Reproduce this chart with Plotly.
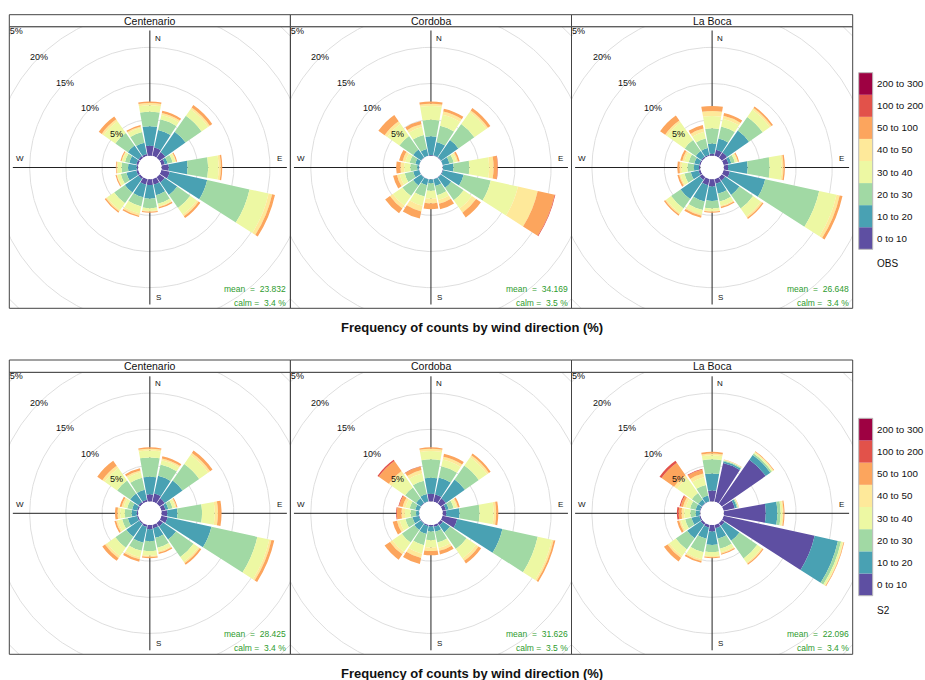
import numpy as np
import plotly.graph_objects as go

# ---------------------------------------------------------------- data
DIRECTIONS = [0.0, 22.5, 45.0, 67.5, 90.0, 112.5, 135.0, 157.5,
              180.0, 202.5, 225.0, 247.5, 270.0, 292.5, 315.0, 337.5]
SPEED_BINS = ["0 to 10", "10 to 20", "20 to 30", "30 to 40", "40 to 50",
              "50 to 100", "100 to 200", "200 to 300"]
BIN_COLOURS = ["#5E4FA2", "#49A1B3", "#A1D9A4", "#EDF8A3", "#FEE99A",
               "#FCA55D", "#E2524A", "#9E0142"]
SITES = ["Centenario", "Cordoba", "La Boca"]
RUNS = ["OBS", "S2"]
MEAN_OBS = [23.832, 34.169, 26.648]
MEAN_S2 = [28.425, 31.626, 22.096]
CALM_OBS = [3.4, 3.5, 3.4]
CALM_S2 = [3.4, 3.5, 3.4]
RING_TICKS = [5, 10, 15, 20, 25]
COMPASS = ["N", "E", "S", "W"]
TITLE = "Frequency of counts by wind direction (%)"

# cumulative frequency (%) at the top of each speed bin
# (0-10, 10-20, 20-30, 30-40, 40-50, 50-100, 100-200), one row per direction
OBS_CENTENARIO = [
    [1.4, 4.1, 6.1, 7.0, 7.3, 7.5, 7.5],
    [1.2, 3.7, 5.2, 5.8, 6.1, 6.4, 6.4],
    [1.0, 4.4, 7.1, 8.2, 8.5, 8.9, 8.9],
    [0.5, 0.9, 1.6, 2.0, 2.1, 2.25, 2.25],
    [1.0, 3.6, 6.45, 7.9, 8.2, 8.4, 8.4],
    [1.2, 6.5, 12.5, 15.2, 15.7, 16.1, 16.1],
    [0.9, 3.0, 5.2, 6.3, 6.6, 6.9, 6.9],
    [0.8, 2.3, 3.5, 3.9, 4.0, 4.2, 4.2],
    [0.8, 2.7, 4.0, 4.4, 4.5, 4.65, 4.65],
    [0.8, 2.6, 3.9, 4.9, 5.2, 5.4, 5.4],
    [0.3, 2.6, 4.4, 5.6, 5.8, 6.0, 6.0],
    [0.3, 1.7, 2.5, 3.0, 3.1, 3.25, 3.25],
    [0.2, 1.4, 2.3, 2.85, 3.0, 3.1, 3.1],
    [0.3, 1.3, 1.9, 2.3, 2.4, 2.55, 2.55],
    [0.3, 2.1, 4.2, 6.2, 6.5, 7.0, 7.0],
    [0.3, 1.9, 3.4, 4.0, 4.2, 4.4, 4.4],
]
OBS_CORDOBA = [
    [0.1, 2.7, 5.0, 6.9, 7.2, 7.5, 7.5],
    [0.1, 2.0, 4.3, 5.85, 6.3, 6.7, 6.7],
    [0.1, 3.0, 5.7, 7.7, 8.0, 8.4, 8.4],
    [0.05, 1.0, 1.6, 2.0, 2.2, 2.45, 2.45],
    [0.05, 1.5, 3.7, 6.45, 7.05, 7.6, 7.65],
    [0.1, 3.0, 6.85, 10.7, 13.5, 15.9, 16.0],
    [0.05, 1.8, 3.9, 5.3, 6.0, 6.8, 6.8],
    [0.05, 1.0, 2.3, 3.0, 3.5, 4.3, 4.3],
    [0.05, 0.55, 1.6, 2.7, 3.35, 4.15, 4.15],
    [0.05, 0.9, 2.5, 3.8, 4.6, 5.6, 5.6],
    [0.05, 1.4, 3.2, 4.8, 5.3, 6.1, 6.1],
    [0.05, 0.9, 2.1, 2.8, 3.2, 3.75, 3.75],
    [0.05, 0.3, 1.25, 2.1, 2.6, 3.2, 3.2],
    [0.05, 0.6, 1.4, 2.0, 2.4, 2.9, 2.9],
    [0.05, 1.4, 3.7, 5.75, 6.2, 7.25, 7.25],
    [0.05, 1.0, 3.0, 4.1, 4.5, 4.95, 4.95],
]
OBS_LABOCA = [
    [0.3, 1.7, 3.8, 5.5, 6.2, 6.9, 6.9],
    [0.9, 2.5, 4.2, 5.3, 5.7, 6.1, 6.1],
    [0.9, 4.6, 6.9, 8.1, 8.4, 8.65, 8.65],
    [0.7, 1.1, 1.6, 1.9, 2.05, 2.2, 2.2],
    [0.6, 3.3, 6.35, 8.0, 8.25, 8.45, 8.45],
    [0.9, 5.9, 13.55, 16.0, 16.45, 16.85, 16.85],
    [0.6, 3.0, 5.3, 6.6, 6.85, 7.05, 7.05],
    [0.7, 2.1, 3.2, 3.8, 3.95, 4.15, 4.15],
    [1.0, 3.0, 4.05, 4.4, 4.5, 4.65, 4.65],
    [0.9, 3.2, 4.4, 5.0, 5.2, 5.5, 5.5],
    [0.5, 3.7, 5.3, 6.1, 6.3, 6.5, 6.5],
    [0.3, 1.4, 2.3, 2.85, 3.05, 3.3, 3.3],
    [0.2, 0.9, 1.8, 2.6, 2.9, 3.2, 3.2],
    [0.2, 0.9, 1.7, 2.3, 2.6, 2.9, 2.9],
    [0.2, 1.15, 3.0, 6.0, 6.3, 7.15, 7.15],
    [0.2, 1.15, 2.5, 3.45, 3.9, 4.4, 4.4],
]
S2_CENTENARIO = [
    [1.0, 3.45, 6.1, 7.05, 7.3, 7.5, 7.5],
    [1.2, 3.7, 5.3, 5.9, 6.15, 6.45, 6.45],
    [0.9, 3.9, 6.7, 8.2, 8.55, 8.95, 8.95],
    [0.6, 1.0, 1.6, 2.0, 2.15, 2.3, 2.3],
    [0.8, 2.2, 5.6, 7.35, 7.8, 8.3, 8.3],
    [0.9, 7.1, 13.6, 15.3, 15.6, 16.0, 16.0],
    [0.6, 2.8, 5.75, 6.55, 6.8, 7.05, 7.05],
    [0.5, 1.85, 3.25, 3.8, 3.95, 4.15, 4.15],
    [0.6, 2.25, 3.6, 4.25, 4.4, 4.6, 4.6],
    [0.3, 2.55, 3.7, 4.6, 4.9, 5.25, 5.25],
    [0.2, 2.35, 4.2, 5.6, 5.95, 6.4, 6.4],
    [0.2, 1.5, 2.3, 2.9, 3.15, 3.4, 3.4],
    [0.2, 0.9, 1.85, 2.5, 2.85, 3.2, 3.2],
    [0.2, 0.9, 1.6, 2.1, 2.4, 2.65, 2.65],
    [0.3, 1.7, 3.9, 6.0, 6.4, 7.25, 7.25],
    [0.3, 1.7, 3.4, 4.2, 4.45, 4.75, 4.75],
]
S2_CORDOBA = [
    [1.1, 3.3, 5.85, 7.0, 7.3, 7.5, 7.5],
    [1.05, 3.45, 5.05, 6.0, 6.4, 6.8, 6.8],
    [0.9, 4.1, 6.45, 7.85, 8.15, 8.45, 8.45],
    [0.5, 0.9, 1.6, 2.0, 2.2, 2.45, 2.45],
    [0.5, 2.35, 5.1, 7.05, 7.4, 7.7, 7.7],
    [2.1, 8.5, 13.5, 15.5, 15.75, 16.0, 16.0],
    [0.4, 1.6, 4.4, 6.0, 6.4, 6.85, 6.85],
    [0.3, 1.0, 2.5, 3.3, 3.7, 4.2, 4.2],
    [0.2, 0.9, 2.1, 3.1, 3.6, 4.2, 4.2],
    [0.2, 1.3, 2.9, 4.1, 4.7, 5.55, 5.55],
    [0.1, 1.2, 3.3, 4.9, 5.3, 6.2, 6.2],
    [0.1, 1.0, 2.0, 2.8, 3.2, 3.8, 3.8],
    [0.05, 0.45, 1.2, 2.0, 2.45, 3.1, 3.2],
    [0.05, 0.6, 1.4, 2.0, 2.4, 2.9, 3.0],
    [0.1, 0.9, 2.75, 5.05, 5.5, 7.2, 7.4],
    [0.1, 1.1, 3.0, 4.0, 4.5, 5.0, 5.05],
]
S2_LABOCA = [
    [1.55, 3.9, 5.85, 6.4, 6.65, 6.9, 6.9],
    [5.5, 5.75, 5.85, 5.92, 5.96, 6.0, 6.0],
    [7.4, 8.2, 8.45, 8.65, 8.75, 8.85, 8.85],
    [1.6, 1.9, 2.05, 2.12, 2.16, 2.2, 2.2],
    [5.8, 7.4, 7.85, 8.1, 8.25, 8.4, 8.4],
    [12.9, 16.2, 16.65, 16.9, 17.0, 17.1, 17.1],
    [0.5, 3.0, 6.0, 6.7, 6.9, 7.05, 7.05],
    [0.5, 2.0, 3.4, 3.9, 4.1, 4.25, 4.25],
    [0.9, 2.75, 3.75, 4.3, 4.45, 4.6, 4.6],
    [0.4, 2.0, 3.9, 4.9, 5.15, 5.4, 5.4],
    [0.3, 2.6, 4.5, 5.6, 5.9, 6.5, 6.5],
    [0.2, 1.3, 2.2, 2.8, 3.05, 3.35, 3.35],
    [0.1, 0.65, 1.4, 2.25, 2.6, 3.0, 3.25],
    [0.1, 0.7, 1.5, 2.1, 2.5, 2.85, 3.0],
    [0.1, 0.7, 1.8, 4.3, 4.8, 6.9, 7.25],
    [0.1, 0.9, 2.4, 3.5, 4.0, 4.6, 4.7],
]

PANELS = [
    [OBS_CENTENARIO, OBS_CORDOBA, OBS_LABOCA],
    [S2_CENTENARIO, S2_CORDOBA, S2_LABOCA],
]
MEANS = [MEAN_OBS, MEAN_S2]
CALMS = [CALM_OBS, CALM_S2]

# ---------------------------------------------------------------- geometry
W, H = 925, 680
COL_EDGES = [9.3, 290.4, 571.5, 852.7]
STRIP_TOP = [14.7, 360.0]
STRIP_BOTTOM = [26.7, 372.3]
PANEL_BOTTOM = [308.3, 654.3]
TITLE_Y = [327.0, 673.0]
KEY_X0, KEY_X1 = 858.7, 872.7
KEY_TOP = [72.7, 418.3]
KEY_BOTTOM = [249.3, 595.7]

R_PX = 138.0          # polar radius in pixels
HOLE_PX = 11.7        # calm hole radius in pixels
PX_PER_PCT = 7.23     # pixels per 1 %
RMAX = (R_PX - HOLE_PX) / PX_PER_PCT
BAR_WIDTH = 20.25

FONT = "Liberation Sans, Arial, sans-serif"
GRID_COLOUR = "#DEDEDE"
FRAME_COLOUR = "#444444"
STAT_COLOUR = "#2E9B2E"
TEXT_COLOUR = "#111111"


def px_x(x):
    return x / W


def px_y(y):
    return 1 - y / H


def note(x, y, text, size, xref="paper", yref="paper", xanchor="center",
         color=TEXT_COLOUR):
    return dict(x=x, y=y, xref=xref, yref=yref, text=text, showarrow=False,
                xanchor=xanchor, yanchor="middle", borderpad=0,
                font=dict(size=size, color=color, family=FONT))


fig = go.Figure()
annotations = []
shapes = []
layout_extra = {}

theta_circ = np.linspace(0, 2 * np.pi, 361)

for r_i, run in enumerate(RUNS):
    top = STRIP_BOTTOM[r_i]
    bottom = PANEL_BOTTOM[r_i]
    cy = (top + bottom) / 2
    for c_i, site in enumerate(SITES):
        n = r_i * 3 + c_i + 1
        left, right = COL_EDGES[c_i], COL_EDGES[c_i + 1]
        cx = (left + right) / 2
        xa = "x" if n == 1 else f"x{n}"
        ya = "y" if n == 1 else f"y{n}"
        xkey = "xaxis" if n == 1 else f"xaxis{n}"
        ykey = "yaxis" if n == 1 else f"yaxis{n}"
        pkey = "polar" if n == 1 else f"polar{n}"

        # ---- cartesian background (rings, cross, hole) in pixel units
        layout_extra[xkey] = dict(domain=[px_x(left), px_x(right)],
                                  range=[left - cx, right - cx],
                                  visible=False, fixedrange=True,
                                  anchor=ya)
        layout_extra[ykey] = dict(domain=[px_y(bottom), px_y(top)],
                                  range=[cy - bottom, cy - top],
                                  visible=False, fixedrange=True,
                                  anchor=xa)
        ring_x, ring_y = [], []
        for v in RING_TICKS:
            rr = HOLE_PX + PX_PER_PCT * v
            ring_x += list(rr * np.sin(theta_circ)) + [None]
            ring_y += list(rr * np.cos(theta_circ)) + [None]
        fig.add_trace(go.Scatter(x=ring_x, y=ring_y, mode="lines",
                                 line=dict(color=GRID_COLOUR, width=1),
                                 hoverinfo="skip", showlegend=False,
                                 xaxis=xa, yaxis=ya))
        L = 137.0
        fig.add_trace(go.Scatter(x=[-L, L, None, 0, 0], y=[0, 0, None, -L, L],
                                 mode="lines",
                                 line=dict(color="#222222", width=1),
                                 hoverinfo="skip", showlegend=False,
                                 xaxis=xa, yaxis=ya))
        fig.add_trace(go.Scatter(x=list(HOLE_PX * np.sin(theta_circ)),
                                 y=list(HOLE_PX * np.cos(theta_circ)),
                                 mode="lines", fill="toself",
                                 fillcolor="white", line=dict(width=0, color="white"),
                                 hoverinfo="skip", showlegend=False,
                                 xaxis=xa, yaxis=ya))
        # outermost ring label gets clipped by the panel
        rr = HOLE_PX + PX_PER_PCT * RING_TICKS[-1]
        fig.add_trace(go.Scatter(x=[-rr * np.sqrt(0.5)], y=[rr * np.sqrt(0.5)],
                                 mode="text", text=[f"{RING_TICKS[-1]}%"],
                                 textfont=dict(size=9, color=TEXT_COLOUR, family=FONT),
                                 cliponaxis=True, hoverinfo="skip",
                                 showlegend=False, xaxis=xa, yaxis=ya))
        for v in RING_TICKS[:-1]:
            rr = HOLE_PX + PX_PER_PCT * v
            annotations.append(note(-rr * np.sqrt(0.5), rr * np.sqrt(0.5),
                                    f"{v}%", 9, xa, ya))
        # compass letters
        comp_pos = {"N": (8.3, 129.5), "E": (129.5, 9.0),
                    "S": (8.3, -130.0), "W": (-130.0, 9.0)}
        for lab in COMPASS:
            annotations.append(note(comp_pos[lab][0], comp_pos[lab][1],
                                    lab, 8, xa, ya))
        # mean / calm
        annotations.append(note(right - cx - 3, -121.0,
                                f"mean\u00a0\u00a0=\u00a0\u00a0{MEANS[r_i][c_i]:.3f}",
                                8.5, xa, ya, xanchor="right", color=STAT_COLOUR))
        annotations.append(note(right - cx - 3, -135.0,
                                f"calm\u00a0=\u00a0\u00a0{CALMS[r_i][c_i]:.1f}\u00a0%",
                                8.5, xa, ya, xanchor="right", color=STAT_COLOUR))

        # ---- polar wind rose
        layout_extra[pkey] = dict(
            domain=dict(x=[px_x(cx - R_PX), px_x(cx + R_PX)],
                        y=[px_y(cy + R_PX), px_y(cy - R_PX)]),
            hole=HOLE_PX / R_PX,
            bgcolor="rgba(0,0,0,0)",
            barmode="stack",
            angularaxis=dict(direction="clockwise", rotation=90,
                             visible=False, showgrid=False, showline=False,
                             showticklabels=False, ticks=""),
            radialaxis=dict(range=[0, RMAX], visible=False, showgrid=False,
                            showline=False, showticklabels=False, ticks=""),
        )
        cum = np.array(PANELS[r_i][c_i])
        per_bin = np.diff(np.concatenate([np.zeros((cum.shape[0], 1)), cum], axis=1), axis=1)
        for b in range(per_bin.shape[1]):
            fig.add_trace(go.Barpolar(r=per_bin[:, b], theta=DIRECTIONS,
                                      width=BAR_WIDTH,
                                      marker=dict(color=BIN_COLOURS[b],
                                                  line=dict(width=0)),
                                      name=SPEED_BINS[b], showlegend=False,
                                      hoverinfo="skip", subplot=pkey))

        # ---- frame and strip
        shapes.append(dict(type="rect", xref="paper", yref="paper",
                           x0=px_x(left), x1=px_x(right),
                           y0=px_y(bottom), y1=px_y(top),
                           line=dict(color=FRAME_COLOUR, width=1), layer="above"))
        shapes.append(dict(type="rect", xref="paper", yref="paper",
                           x0=px_x(left), x1=px_x(right),
                           y0=px_y(STRIP_BOTTOM[r_i]), y1=px_y(STRIP_TOP[r_i]),
                           fillcolor="white",
                           line=dict(color=FRAME_COLOUR, width=1), layer="above"))
        annotations.append(note(px_x(cx), px_y((STRIP_TOP[r_i] + STRIP_BOTTOM[r_i]) / 2),
                                site, 10.5))

    # ---- colour key
    n_bins = len(SPEED_BINS)
    step = (KEY_BOTTOM[r_i] - KEY_TOP[r_i]) / n_bins
    for b, lab in enumerate(SPEED_BINS):
        y1 = KEY_BOTTOM[r_i] - b * step
        y0 = y1 - step
        shapes.append(dict(type="rect", xref="paper", yref="paper",
                           x0=px_x(KEY_X0), x1=px_x(KEY_X1),
                           y0=px_y(y1), y1=px_y(y0),
                           fillcolor=BIN_COLOURS[b], line=dict(width=0)))
        annotations.append(note(px_x(KEY_X1 + 3), px_y((y0 + y1) / 2), lab, 9.8,
                                xanchor="left"))
    shapes.append(dict(type="rect", xref="paper", yref="paper",
                       x0=px_x(KEY_X0), x1=px_x(KEY_X1),
                       y0=px_y(KEY_BOTTOM[r_i]), y1=px_y(KEY_TOP[r_i]),
                       line=dict(color="#BBBBBB", width=1)))
    annotations.append(note(px_x(KEY_X1 + 3), px_y(KEY_BOTTOM[r_i] + 14.5), run, 10,
                            xanchor="left"))
    # ---- title under each row
    annotations.append(note(px_x(472), px_y(TITLE_Y[r_i]), f"<b>{TITLE}</b>", 13))

fig.update_layout(
    width=W, height=H, autosize=False,
    margin=dict(l=0, r=0, t=0, b=0),
    paper_bgcolor="white", plot_bgcolor="rgba(0,0,0,0)",
    font=dict(family=FONT, color=TEXT_COLOUR),
    showlegend=False,
    annotations=annotations,
    shapes=shapes,
    **layout_extra,
)

fig.write_html("out.html",
               config={"displayModeBar": False, "staticPlot": True},
               post_script="document.body.style.margin='0';"
                           "document.body.style.overflow='hidden';")
